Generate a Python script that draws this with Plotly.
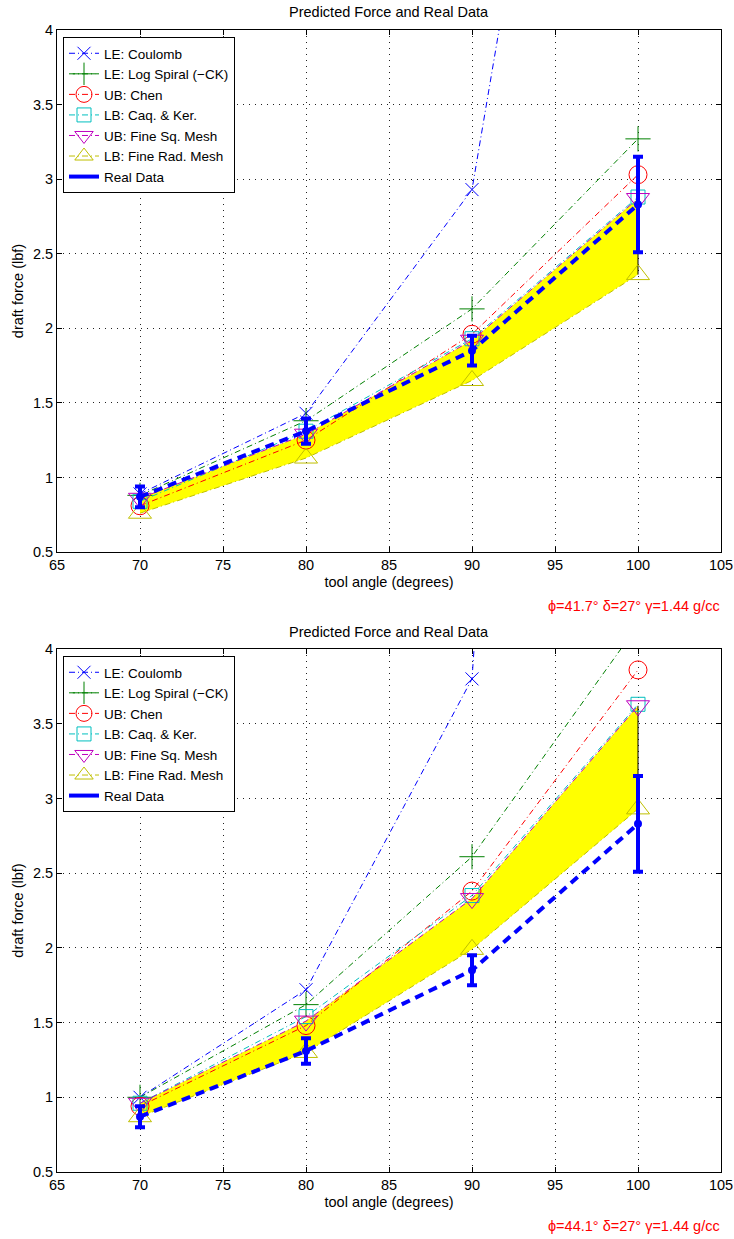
import plotly.graph_objects as go

# ---------------- data ----------------
angles = [70, 80, 90, 100]

# top panel (phi = 41.7)
top_coulomb = [0.89, 1.43, 2.93, 9.5]
top_logspiral = [0.88, 1.38, 2.13, 3.27]
top_chen = [0.81, 1.25, 1.96, 3.03]
top_caqker = [0.84, 1.31, 1.93, 2.88]
top_finesq = [0.86, 1.29, 1.92, 2.87]
top_finerad = [0.76, 1.13, 1.65, 2.36]

# bottom panel (phi = 44.1)
bot_coulomb = [1.00, 1.72, 3.80, 20.0]
bot_logspiral = [1.00, 1.62, 2.61, 4.16]
bot_chen = [0.94, 1.48, 2.38, 3.86]
bot_caqker = [0.96, 1.54, 2.35, 3.63]
bot_finesq = [0.96, 1.51, 2.33, 3.62]
bot_finerad = [0.87, 1.30, 1.99, 2.93]

# measured data (same in both panels)
real_force = [0.87, 1.31, 1.85, 2.83]
real_err = [0.07, 0.085, 0.10, 0.32]

series_names = ["LE: Coulomb", "LE: Log Spiral (\u2212CK)", "UB: Chen",
                "LB: Caq. & Ker.", "UB: Fine Sq. Mesh", "LB: Fine Rad. Mesh"]
series_colors = ["#0000FF", "#008000", "#FF0000", "#00BFBF", "#BF00BF", "#BFBF00"]
series_symbols = ["x-thin-open", "cross-thin-open", "circle-open",
                  "square-open", "triangle-down-open", "triangle-up-open"]
series_sizes = [13, 18, 18, 14, 20, 20]

panel_title = "Predicted Force and Real Data"
x_label = "tool angle (degrees)"
y_label = "draft force (lbf)"
top_note = "\u03d5=41.7\u00b0 \u03b4=27\u00b0 \u03b3=1.44 g/cc"
bot_note = "\u03d5=44.1\u00b0 \u03b4=27\u00b0 \u03b3=1.44 g/cc"

FONT = "Liberation Sans, Arial, Helvetica, sans-serif"
FS = 14.5
LFS = 13.5
DASHDOT = "6px,3px,1px,3px"

fig = go.Figure()


def add_panel(fig, xa, ya, legend_name, series, finesq, finerad):
    # yellow band between fine square mesh (UB) and fine radial mesh (LB)
    fig.add_trace(go.Scatter(
        x=angles + angles[::-1], y=finesq + finerad[::-1],
        fill="toself", fillcolor="#FFFF00", mode="lines",
        line=dict(width=0, color="rgba(0,0,0,0)"),
        hoverinfo="skip", showlegend=False, xaxis=xa, yaxis=ya))
    # thin black edge of the band at the last angle
    fig.add_trace(go.Scatter(
        x=[angles[-1], angles[-1]], y=[finerad[-1], finesq[-1]],
        mode="lines", line=dict(width=1, color="black"),
        hoverinfo="skip", showlegend=False, xaxis=xa, yaxis=ya))
    for vals, name, col, sym, sz in zip(series, series_names, series_colors,
                                        series_symbols, series_sizes):
        fig.add_trace(go.Scatter(
            x=angles, y=vals, name=name, mode="lines+markers",
            line=dict(color=col, width=1, dash=DASHDOT),
            marker=dict(symbol=sym, size=sz, color=col, line=dict(width=1, color=col)),
            xaxis=xa, yaxis=ya, legend=legend_name))
    # real data: thick dashed line with error bars
    fig.add_trace(go.Scatter(
        x=angles, y=real_force, mode="lines+markers", showlegend=False,
        line=dict(color="#0000FF", width=4, dash="9px,6px"),
        marker=dict(symbol="circle", size=8, color="#0000FF"),
        error_y=dict(type="data", array=real_err, visible=True,
                     color="#0000FF", thickness=4, width=5),
        xaxis=xa, yaxis=ya))
    fig.add_trace(go.Scatter(
        x=[None], y=[None], mode="lines", name="Real Data",
        line=dict(color="#0000FF", width=4),
        xaxis=xa, yaxis=ya, legend=legend_name))


add_panel(fig, "x", "y", "legend",
          [top_coulomb, top_logspiral, top_chen, top_caqker, top_finesq, top_finerad],
          top_finesq, top_finerad)
add_panel(fig, "x2", "y2", "legend2",
          [bot_coulomb, bot_logspiral, bot_chen, bot_caqker, bot_finesq, bot_finerad],
          bot_finesq, bot_finerad)

W, H = 734, 1239
x_dom = [57 / W, 721 / W]
top_dom = [1 - 552 / H, 1 - 30 / H]
bot_dom = [1 - 1172 / H, 1 - 649 / H]

axis_common = dict(
    showline=True, linecolor="black", linewidth=1, mirror="ticks",
    ticks="inside", ticklen=5, tickcolor="black", tickwidth=1,
    showgrid=True, gridcolor="#222222", gridwidth=1, griddash="1px,5px",
    zeroline=False, automargin=False,
    tickfont=dict(family=FONT, size=FS, color="black"),
)

fig.update_layout(
    width=W, height=H, margin=dict(l=0, r=0, t=0, b=0, autoexpand=False),
    paper_bgcolor="white", plot_bgcolor="white",
    font=dict(family=FONT, size=FS, color="black"),
    xaxis=dict(domain=x_dom, anchor="y", range=[65, 105], tick0=65, dtick=5,
               title=dict(text=x_label, font=dict(size=FS), standoff=4), **axis_common),
    yaxis=dict(domain=top_dom, anchor="x", range=[0.5, 4], tick0=0.5, dtick=0.5,
               title=dict(text=y_label, font=dict(size=FS), standoff=5), **axis_common),
    xaxis2=dict(domain=x_dom, anchor="y2", range=[65, 105], tick0=65, dtick=5,
                title=dict(text=x_label, font=dict(size=FS), standoff=4), **axis_common),
    yaxis2=dict(domain=bot_dom, anchor="x2", range=[0.5, 4], tick0=0.5, dtick=0.5,
                title=dict(text=y_label, font=dict(size=FS), standoff=5), **axis_common),
    legend=dict(x=63 / W, y=1 - 37 / H, xanchor="left", yanchor="top",
                bgcolor="white", bordercolor="black", borderwidth=1,
                font=dict(family=FONT, size=LFS), tracegroupgap=0,
                itemwidth=30),
    legend2=dict(x=63 / W, y=1 - 656 / H, xanchor="left", yanchor="top",
                 bgcolor="white", bordercolor="black", borderwidth=1,
                 font=dict(family=FONT, size=LFS), tracegroupgap=0,
                 itemwidth=30),
    showlegend=True,
    annotations=[
        dict(text=panel_title, xref="paper", yref="paper", x=389 / W, y=1 - 12 / H,
             xanchor="center", yanchor="middle", showarrow=False,
             font=dict(family=FONT, size=FS, color="black")),
        dict(text=panel_title, xref="paper", yref="paper", x=389 / W, y=1 - 632 / H,
             xanchor="center", yanchor="middle", showarrow=False,
             font=dict(family=FONT, size=FS, color="black")),
        dict(text=top_note, xref="paper", yref="paper", x=722 / W, y=1 - 606 / H,
             xanchor="right", yanchor="middle", showarrow=False,
             font=dict(family=FONT, size=FS, color="#FF0000")),
        dict(text=bot_note, xref="paper", yref="paper", x=722 / W, y=1 - 1226 / H,
             xanchor="right", yanchor="middle", showarrow=False,
             font=dict(family=FONT, size=FS, color="#FF0000")),
    ],
)

fig.write_html(
    "out.html",
    config={"displayModeBar": False},
    post_script="document.body.style.margin='0';document.body.style.padding='0';",
)
